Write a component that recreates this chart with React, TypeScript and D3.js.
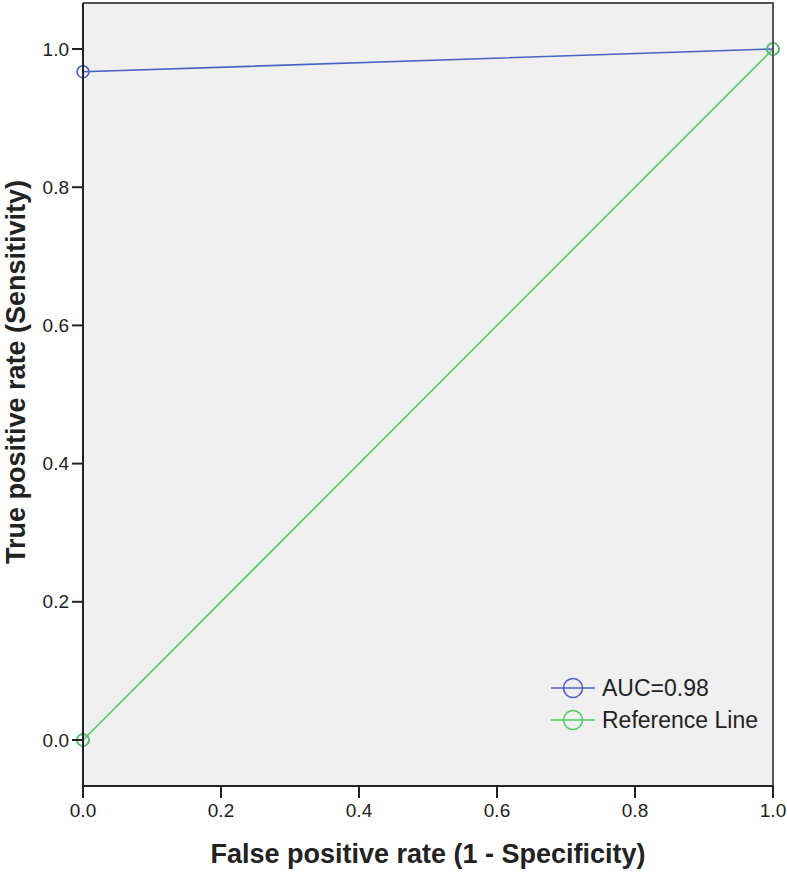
import React from "react";
import * as d3 from "d3";

const rocFpr = [0, 0, 1];
const rocTpr = [0, 0.967, 1];
const refFpr = [0, 1];
const refTpr = [0, 1];
const xTicks = [0, 0.2, 0.4, 0.6, 0.8, 1.0];
const yTicks = [0, 0.2, 0.4, 0.6, 0.8, 1.0];
const legendLabels = ["AUC=0.98", "Reference Line"];

const W = 787, H = 872;
const L = 83, R = 773, T = 3, B = 786;
const BLUE = "#4a62c4";
const GREEN = "#4fcf5f";

export default function App() {
  const x = d3.scaleLinear().domain([0, 1]).range([L, R]);
  const y = d3.scaleLinear().domain([0, 1]).range([740, 49]);
  const line = d3.line<[number, number]>().x(d => x(d[0])).y(d => y(d[1]));
  const roc: [number, number][] = rocFpr.map((f, i) => [f, rocTpr[i]]);
  const ref: [number, number][] = refFpr.map((f, i) => [f, refTpr[i]]);
  const font = "Liberation Sans, Arial, sans-serif";
  const legendColors = [BLUE, GREEN];
  return (
    <svg width={W} height={H} style={{ position: "absolute", left: 0, top: 0 }} fontFamily={font}>
      <rect x={0} y={0} width={W} height={H} fill="#fff" />
      <rect x={L} y={T} width={R - L} height={B - T} fill="#f0f0f0" />
      <path d={line(ref) || ""} fill="none" stroke={GREEN} strokeWidth={1.6} />
      <path d={line(roc) || ""} fill="none" stroke={BLUE} strokeWidth={1.6} />
      {roc.map((d, i) => (
        <circle key={"b" + i} cx={x(d[0])} cy={y(d[1])} r={6} fill="none" stroke={BLUE} strokeWidth={1.6} />
      ))}
      {ref.map((d, i) => (
        <circle key={"g" + i} cx={x(d[0])} cy={y(d[1])} r={6} fill="none" stroke={GREEN} strokeWidth={1.6} />
      ))}
      <path d={`M${L},${T}H${R}V${B}`} fill="none" stroke="#555" strokeWidth={2} />
      <path d={`M${L},${T}V${B}H${R}`} fill="none" stroke="#222" strokeWidth={2} />
      {yTicks.map(t => (
        <g key={"y" + t}>
          <line x1={L - 11} x2={L} y1={y(t)} y2={y(t)} stroke="#222" strokeWidth={2} />
          <text x={L - 14} y={y(t)} dy="0.35em" textAnchor="end" fontSize={19} fill="#222">{t.toFixed(1)}</text>
        </g>
      ))}
      {xTicks.map(t => (
        <g key={"x" + t}>
          <line x1={x(t)} x2={x(t)} y1={B} y2={B + 12} stroke="#222" strokeWidth={2} />
          <text x={x(t)} y={817} textAnchor="middle" fontSize={19} fill="#222">{t.toFixed(1)}</text>
        </g>
      ))}
      <text x={(L + R) / 2} y={863} textAnchor="middle" fontSize={27} fontWeight="bold" fill="#222">False positive rate (1 - Specificity)</text>
      <text transform={`translate(25,372) rotate(-90)`} textAnchor="middle" fontSize={27} fontWeight="bold" fill="#222">True positive rate (Sensitivity)</text>
      {legendLabels.map((lab, i) => (
        <g key={lab} transform={`translate(0,${688 + i * 32})`}>
          <line x1={551} x2={595} y1={0} y2={0} stroke={legendColors[i]} strokeWidth={1.6} />
          <circle cx={573} cy={0} r={9.5} fill="none" stroke={legendColors[i]} strokeWidth={1.6} />
          <text x={602} y={0} dy="0.36em" fontSize={23} fill="#222">{lab}</text>
        </g>
      ))}
    </svg>
  );
}
